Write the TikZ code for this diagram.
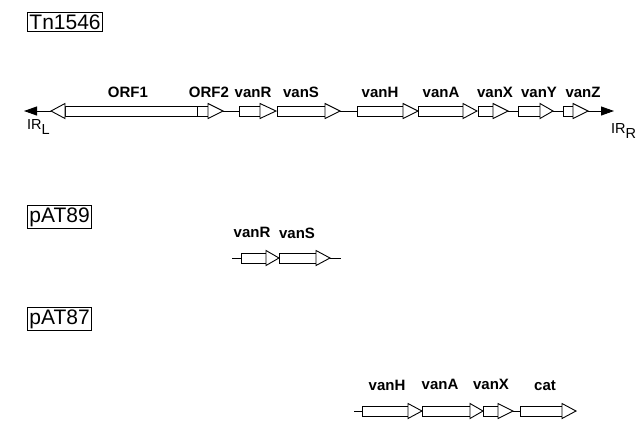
\documentclass[tikz,border=0pt]{standalone}
\usepackage{fontspec}
\setmainfont{Liberation Sans}
\usetikzlibrary{arrows.meta}
\tikzset{
  genebody/.style={draw=black, fill=white, line width=0.9pt, line join=miter},
  backbone/.style={draw=black, line width=0.9pt},
  endarrow/.style={backbone, -{Triangle[length=13pt,width=9pt]}},
  genelabel/.style={font=\bfseries\fontsize{15}{17}\selectfont, inner sep=0pt, anchor=base},
  titlebox/.style={draw=black, line width=0.9pt, font=\fontsize{21}{24}\selectfont, inner xsep=2pt, inner ysep=2pt, anchor=north west},
  irlabel/.style={font=\fontsize{14.5}{16}\selectfont, inner sep=0pt, anchor=north west}
}
% right-pointing gene: name, box start, box end, tip, y
\newcommand\rgene[5]{%
  \draw[genebody] ({#2},{#5-5}) rectangle ({#3},{#5+5});
  \draw[genebody] ({#3},{#5-7.5}) -- ({#4},{#5}) -- ({#3},{#5+7.5}) -- cycle;
  \coordinate (#1-s) at ({#2},{#5});
  \coordinate (#1-e) at ({#4},{#5});
}
% left-pointing gene: name, tip, box start, box end, y
\newcommand\lgene[5]{%
  \draw[genebody] ({#3},{#5-5}) rectangle ({#4},{#5+5});
  \draw[genebody] ({#3},{#5-7.5}) -- ({#2},{#5}) -- ({#3},{#5+7.5}) -- cycle;
  \coordinate (#1-s) at ({#2},{#5});
  \coordinate (#1-e) at ({#4},{#5});
}
\begin{document}
\begin{tikzpicture}[x=1pt,y=-1pt]
\useasboundingbox (0,0) rectangle (640,421);

% ---------- Tn1546 ----------
\node[titlebox] (tn) at (27,12) {Tn1546};

\coordinate (Ltip) at (24,111);
\coordinate (Rtip) at (614,111);
\lgene{orf1}{51}{65}{197}{111}
\rgene{orf2}{197}{208}{223}{111}
\rgene{vanR}{239}{260}{276}{111}
\rgene{vanS}{277}{325}{340}{111}
\rgene{vanH}{357}{403}{418}{111}
\rgene{vanA}{418}{463}{477}{111}
\rgene{vanX}{478}{493}{508}{111}
\rgene{vanY}{518}{540}{553}{111}
\rgene{vanZ}{563}{573}{588}{111}

\draw[endarrow] (orf1-s) -- (Ltip);
\draw[backbone] (orf2-e) -- (vanR-s);
\draw[backbone] (vanS-e) -- (vanH-s);
\draw[backbone] (vanX-e) -- (vanY-s);
\draw[backbone] (vanY-e) -- (vanZ-s);
\draw[endarrow] (vanZ-e) -- (Rtip);

\node[genelabel] (l-orf1) at (128,97) {ORF1};
\node[genelabel] (l-orf2) at (209,97) {ORF2};
\node[genelabel] (l-vanR) at (253,97) {vanR};
\node[genelabel] (l-vanS) at (301,97) {vanS};
\node[genelabel] (l-vanH) at (380,97) {vanH};
\node[genelabel] (l-vanA) at (441,97) {vanA};
\node[genelabel] (l-vanX) at (495,97) {vanX};
\node[genelabel] (l-vanY) at (539,97) {vanY};
\node[genelabel] (l-vanZ) at (583,97) {vanZ};

\node[irlabel] (irl) at (27,119) {IR\raisebox{-5pt}{L}};
\node[irlabel] (irr) at (611,123) {IR\raisebox{-5pt}{R}};

% ---------- pAT89 ----------
\node[titlebox] (p89) at (27,205) {pAT89};
\coordinate (p89a) at (232,258);
\coordinate (p89b) at (341,258);
\rgene{bR}{241}{266}{279}{258}
\rgene{bS}{279}{316}{330}{258}
\draw[backbone] (p89a) -- (bR-s);
\draw[backbone] (bS-e) -- (p89b);
\node[genelabel] (l-bR) at (252,237) {vanR};
\node[genelabel] (l-bS) at (297,238) {vanS};

% ---------- pAT87 ----------
\node[titlebox] (p87) at (27,307) {pAT87};
\coordinate (p87a) at (354,411);
\rgene{cH}{362}{408}{422}{411}
\rgene{cA}{422}{470}{483}{411}
\rgene{cX}{483}{498}{513}{411}
\rgene{cC}{520}{562}{576}{411}
\draw[backbone] (p87a) -- (cH-s);
\draw[backbone] (cX-e) -- (cC-s);
\node[genelabel] (l-cH) at (387,390) {vanH};
\node[genelabel] (l-cA) at (440,389) {vanA};
\node[genelabel] (l-cX) at (491,389) {vanX};
\node[genelabel] (l-cC) at (545,390) {cat};
\end{tikzpicture}
\end{document}
